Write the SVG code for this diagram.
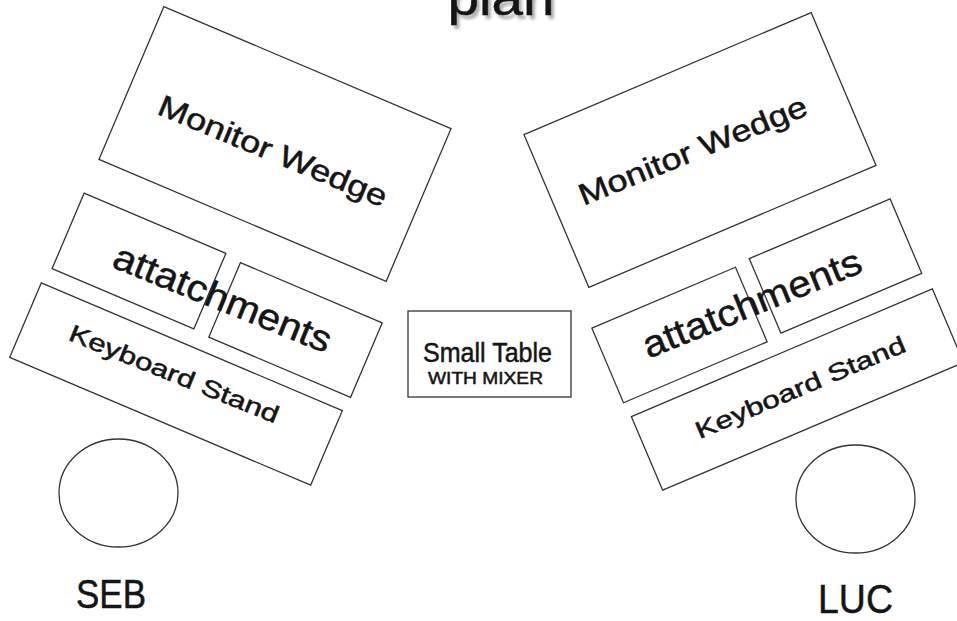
<svg xmlns="http://www.w3.org/2000/svg" width="957" height="621" viewBox="0 0 957 621">
<defs>
<style>
.box{fill:#fff;stroke:#333;stroke-width:1.3}
.t{font-family:"Liberation Sans","DejaVu Sans",sans-serif;fill:#151515;text-anchor:middle;stroke:#151515;stroke-width:0.5}
</style>
<filter id="blur" x="-20%" y="-20%" width="140%" height="140%"><feGaussianBlur stdDeviation="1.6"/></filter>
</defs>
<rect width="957" height="621" fill="#fff"/>
<g id="title">
<text class="t" x="504" y="19" font-size="50" style="fill:#aaa;stroke:none" filter="url(#blur)" textLength="107" lengthAdjust="spacingAndGlyphs">plan</text>
<text class="t" x="501" y="15" font-size="50" textLength="107" lengthAdjust="spacingAndGlyphs">plan</text>
</g>
<g id="monitor-left">
<rect class="box" transform="translate(275,144) rotate(23)" x="-156" y="-83" width="312" height="166"/>
<text class="t" transform="translate(269,160.5) rotate(22.5)" font-size="30" textLength="245" lengthAdjust="spacingAndGlyphs">Monitor Wedge</text>
</g>
<g id="attachments-left">
<rect class="box" transform="translate(139,261) rotate(23)" x="-77" y="-41" width="154" height="82"/>
<rect class="box" transform="translate(295.5,330) rotate(23)" x="-77" y="-40.5" width="154" height="81"/>
<text class="t" transform="translate(218,310) rotate(22)" font-size="37" textLength="232" lengthAdjust="spacingAndGlyphs">attatchments</text>
</g>
<g id="keyboard-left">
<rect class="box" transform="translate(176,384) rotate(23)" x="-163.5" y="-40.5" width="327" height="81"/>
<text class="t" transform="translate(171,381.5) rotate(22)" font-size="24" textLength="224" lengthAdjust="spacingAndGlyphs">Keyboard Stand</text>
</g>
<g id="seb">
<ellipse class="box" cx="118.5" cy="493" rx="59.5" ry="54"/>
<text class="t" x="111" y="608" font-size="41" textLength="70" lengthAdjust="spacingAndGlyphs">SEB</text>
</g>
<g id="small-table">
<rect class="box" x="408" y="311" width="163" height="86"/>
<text class="t" x="487.5" y="362" font-size="27" textLength="129" lengthAdjust="spacingAndGlyphs">Small Table</text>
<text class="t" x="485.5" y="384" font-size="17" textLength="115" lengthAdjust="spacingAndGlyphs">WITH MIXER</text>
</g>
<g id="monitor-right">
<rect class="box" transform="translate(700,150) rotate(-23)" x="-156" y="-83" width="312" height="166"/>
<text class="t" transform="translate(696.5,160) rotate(-22)" font-size="30" textLength="244" lengthAdjust="spacingAndGlyphs">Monitor Wedge</text>
</g>
<g id="attachments-right">
<rect class="box" transform="translate(679.5,335) rotate(-23)" x="-78" y="-40.5" width="156" height="81"/>
<rect class="box" transform="translate(835.5,266) rotate(-23)" x="-76.5" y="-40.5" width="153" height="81"/>
<text class="t" transform="translate(756.5,315) rotate(-22)" font-size="37" textLength="233" lengthAdjust="spacingAndGlyphs">attatchments</text>
</g>
<g id="keyboard-right">
<rect class="box" transform="translate(797.5,389.5) rotate(-23)" x="-163.5" y="-40" width="327" height="80"/>
<text class="t" transform="translate(803.5,395) rotate(-23)" font-size="24" textLength="226" lengthAdjust="spacingAndGlyphs">Keyboard Stand</text>
</g>
<g id="luc">
<ellipse class="box" cx="855.5" cy="499" rx="59.5" ry="54"/>
<text class="t" x="855.5" y="613" font-size="41" textLength="75" lengthAdjust="spacingAndGlyphs">LUC</text>
</g>
</svg>
